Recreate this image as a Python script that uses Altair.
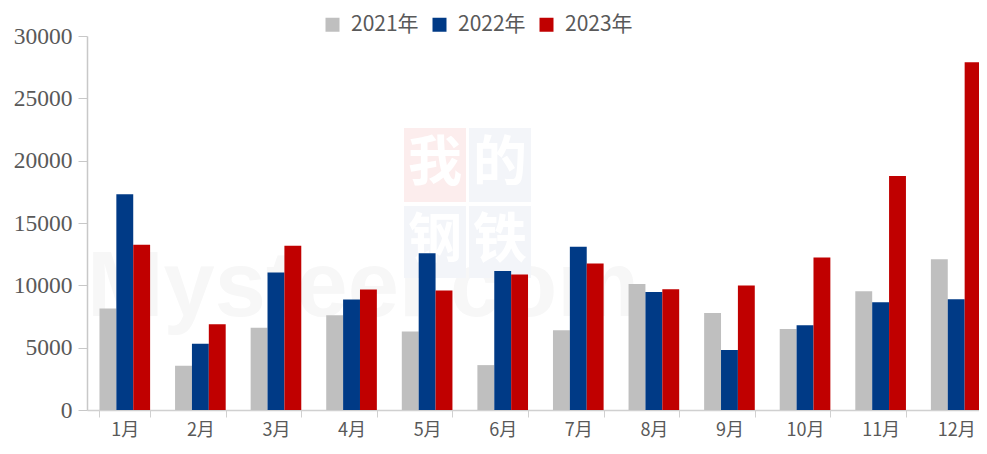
import altair as alt
import pandas as pd

months = ["1月", "2月", "3月", "4月", "5月", "6月", "7月", "8月", "9月", "10月", "11月", "12月"]
series = ["2021年", "2022年", "2023年"]
v2021 = [8150, 3550, 6600, 7600, 6300, 3600, 6400, 10100, 7780, 6500, 9520, 12100]
v2022 = [17300, 5320, 11020, 8860, 12580, 11150, 13100, 9470, 4820, 6790, 8650, 8880]
v2023 = [13250, 6870, 13170, 9660, 9580, 10860, 11760, 9690, 9980, 12240, 18780, 27900]
colors = ["#BFBFBF", "#003A86", "#C00000"]

rows = []
for i, m in enumerate(months):
    for s, vals in zip(series, [v2021, v2022, v2023]):
        rows.append({"month": m, "series": s, "value": vals[i]})
df = pd.DataFrame(rows)

bars = alt.Chart(df).mark_bar().encode(
    x=alt.X("month:N", sort=months, title=None,
            scale=alt.Scale(paddingInner=0.33, paddingOuter=0.165, range=[0, 907]),
            axis=alt.Axis(labelAngle=0, labelFont="Noto Sans CJK SC", labelFontSize=18,
                          labelColor="#595959", labelPadding=4, tickBand="extent",
                          tickSize=7, tickColor="#D0D0D0", domainColor="#D0D0D0",
                          domainWidth=1.5)),
    xOffset=alt.XOffset("series:N", sort=series),
    y=alt.Y("value:Q", title=None,
            scale=alt.Scale(domain=[0, 30000], nice=False),
            axis=alt.Axis(values=[0, 5000, 10000, 15000, 20000, 25000, 30000],
                          labelFont="Liberation Serif", labelFontSize=23.5, labelColor="#595959",
                          labelPadding=6, tickSize=9, tickColor="#C8C8C8",
                          domainColor="#C8C8C8", domainWidth=1.5, grid=False, format="d")),
    color=alt.Color("series:N", sort=series,
                    scale=alt.Scale(domain=series, range=colors),
                    legend=alt.Legend(title=None, orient="none", direction="horizontal",
                                      legendX=235, legendY=-22, symbolType="square",
                                      symbolSize=196, symbolStrokeWidth=0, labelFontSize=21,
                                      labelFont="Noto Sans CJK SC", labelColor="#595959",
                                      labelOffset=8, columnPadding=10, padding=0)),
)

# faint watermark (plot-area pixel coordinates)
def box(x1, x2, y1, y2, fill):
    return alt.Chart(pd.DataFrame({"a": [0]})).mark_rect(fill=fill).encode(
        x=alt.value(x1), x2=alt.value(x2), y=alt.value(y1), y2=alt.value(y2))

def glyph(t, x, y, size=54, color="#FFFFFF", font="Noto Sans CJK SC", weight="bold"):
    return alt.Chart(pd.DataFrame({"t": [t]})).mark_text(
        font=font, fontSize=size, fontWeight=weight, color=color, align="center", baseline="middle"
    ).encode(text="t:N", x=alt.value(x), y=alt.value(y))

wm = [
    glyph("Mysteel.com", 276, 252, size=92, color="#F7F7F7", font="Liberation Sans"),
    box(317, 379, 92, 166, "#FCEDED"),
    box(382, 444, 92, 166, "#F3F5F9"),
    box(317, 379, 170, 242, "#F3F5F9"),
    box(382, 444, 170, 242, "#F3F5F9"),
    glyph("我", 348, 129),
    glyph("的", 413, 129),
    glyph("钢", 348, 206),
    glyph("铁", 413, 206),
]

chart = alt.layer(*wm, bars).properties(
    width=892, height=374,
    autosize=alt.AutoSizeParams(type="none"),
    padding={"left": 79, "top": 28, "right": 0, "bottom": 32},
).configure_view(stroke=None)

chart.save("out.html", embed_options={"renderer": "svg", "actions": False})
